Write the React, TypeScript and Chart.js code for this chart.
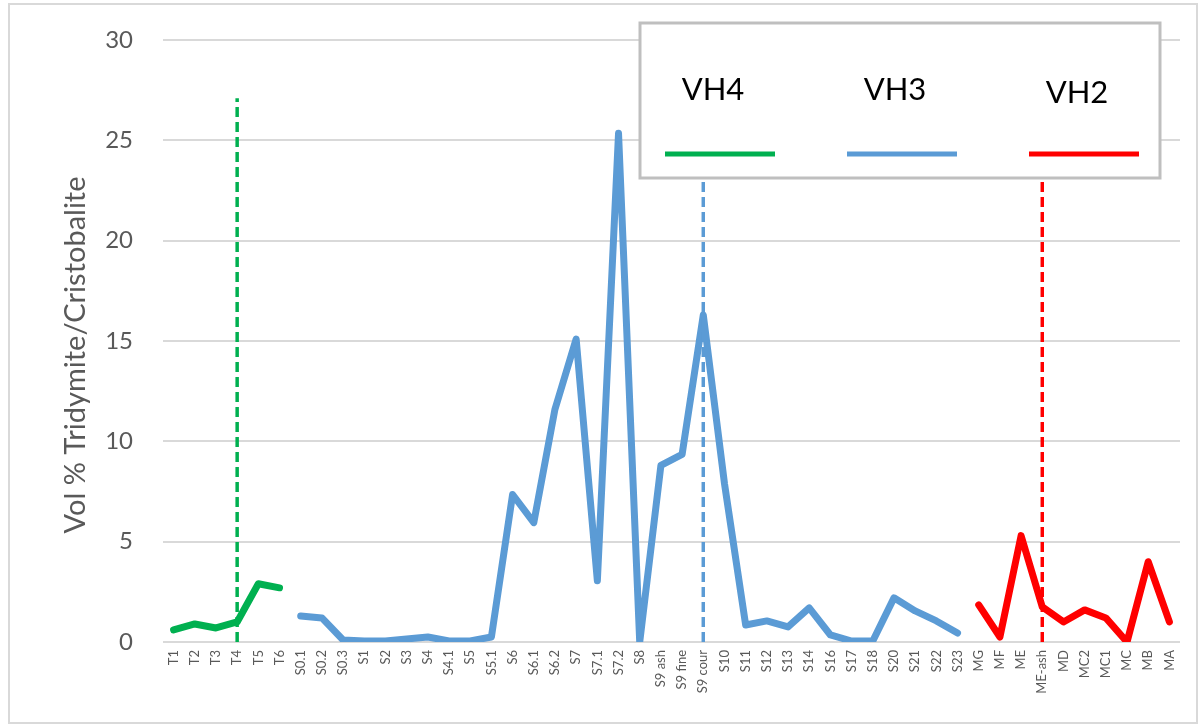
import React, { useEffect, useRef } from "react";
import { Chart, registerables } from "chart.js";

Chart.register(...registerables);

const categories = [
  "T1", "T2", "T3", "T4", "T5", "T6",
  "S0.1", "S0.2", "S0.3", "S1", "S2", "S3", "S4", "S4.1", "S5", "S5.1", "S6", "S6.1", "S6.2", "S7", "S7.1", "S7.2", "S8",
  "S9 ash", "S9 fine", "S9 cour", "S10", "S11", "S12", "S13", "S14", "S16", "S17", "S18", "S20", "S21", "S22", "S23",
  "MG", "MF", "ME", "ME-ash", "MD", "MC2", "MC1", "MC", "MB", "MA",
];

const vh4Labels = ["T1", "T2", "T3", "T4", "T5", "T6"];
const vh4Values = [0.6, 0.9, 0.7, 1.0, 2.9, 2.7];

const vh3Labels = [
  "S0.1", "S0.2", "S0.3", "S1", "S2", "S3", "S4", "S4.1", "S5", "S5.1", "S6", "S6.1", "S6.2", "S7", "S7.1", "S7.2", "S8",
  "S9 ash", "S9 fine", "S9 cour", "S10", "S11", "S12", "S13", "S14", "S16", "S17", "S18", "S20", "S21", "S22", "S23",
];
const vh3Values = [
  1.3, 1.2, 0.1, 0.05, 0.05, 0.15, 0.25, 0.05, 0.05, 0.25, 7.35, 5.95, 11.6, 15.1, 3.05, 25.35, 0.0,
  8.8, 9.35, 16.3, 7.9, 0.85, 1.05, 0.75, 1.7, 0.35, 0.05, 0.05, 2.2, 1.55, 1.05, 0.45,
];

const vh2Labels = ["MG", "MF", "ME", "ME-ash", "MD", "MC2", "MC1", "MC", "MB", "MA"];
const vh2Values = [1.85, 0.25, 5.3, 1.75, 1.0, 1.6, 1.2, 0.0, 4.0, 1.0];

const seriesNames = ["VH4", "VH3", "VH2"];
const seriesColors = ["#00b050", "#5b9bd5", "#ff0000"];
const markerLabels = ["T4", "S9 cour", "ME-ash"];
const markerTop = 27.1;

const yTicks = [0, 5, 10, 15, 20, 25, 30];
const yTitle = "Vol % Tridymite/Cristobalite";

function spread(labels: string[], values: number[]) {
  return categories.map((c) => {
    const i = labels.indexOf(c);
    return i >= 0 ? values[i] : null;
  });
}

const FONT = "Lato, 'Open Sans', sans-serif";

const decorPlugin = {
  id: "decor",
  beforeDraw(chart: any) {
    const ctx = chart.ctx;
    ctx.save();
    ctx.fillStyle = "#ffffff";
    ctx.fillRect(0, 0, chart.width, chart.height);
    ctx.strokeStyle = "#d9d9d9";
    ctx.lineWidth = 2;
    ctx.strokeRect(9, 4, 1188, 719);
    // y-axis title
    ctx.translate(76, 355);
    ctx.rotate(-Math.PI / 2);
    ctx.font = "29px " + FONT;
    ctx.fillStyle = "#595959";
    ctx.textAlign = "center";
    ctx.textBaseline = "middle";
    ctx.fillText(yTitle, 0, 0);
    ctx.restore();
  },
  afterDatasetsDraw(chart: any) {
    const ctx = chart.ctx;
    ctx.save();
    ctx.fillStyle = "#ffffff";
    ctx.fillRect(640, 23, 520, 155);
    ctx.strokeStyle = "#bfbfbf";
    ctx.lineWidth = 3;
    ctx.strokeRect(640, 23, 520, 155);
    const centers = [720, 902, 1084];
    const textY = [90, 90, 93];
    ctx.font = "31px " + FONT;
    ctx.fillStyle = "#000000";
    ctx.textAlign = "center";
    ctx.textBaseline = "middle";
    seriesNames.forEach((n, i) => {
      ctx.fillText(n, centers[i] - 7, textY[i]);
      ctx.strokeStyle = seriesColors[i];
      ctx.lineWidth = 5;
      ctx.beginPath();
      ctx.moveTo(centers[i] - 55, 154);
      ctx.lineTo(centers[i] + 55, 154);
      ctx.stroke();
    });
    ctx.restore();
  },
};

export default function App() {
  const ref = useRef<HTMLCanvasElement>(null);
  useEffect(() => {
    if (!ref.current) return;
    const markerSets = markerLabels.map((lab, i) => ({
      label: "marker" + i,
      data: [
        { x: lab, y: 0 },
        { x: lab, y: markerTop },
      ],
      borderColor: seriesColors[i],
      borderWidth: 3.5,
      borderDash: [10, 5],
      pointRadius: 0,
      fill: false,
      order: 0,
    }));
    const lineSets = [
      spread(vh4Labels, vh4Values),
      spread(vh3Labels, vh3Values),
      spread(vh2Labels, vh2Values),
    ].map((d, i) => ({
      label: seriesNames[i],
      data: d,
      borderColor: seriesColors[i],
      borderWidth: 7,
      borderCapStyle: "round",
      borderJoinStyle: "round",
      pointRadius: 0,
      spanGaps: false,
      fill: false,
      tension: 0,
      order: 1,
    }));
    const chart = new Chart(ref.current, {
      type: "line",
      data: { labels: categories, datasets: [...markerSets, ...lineSets] as any },
      plugins: [decorPlugin],
      options: {
        animation: false,
        responsive: false,
        maintainAspectRatio: false,
        layout: { padding: { left: 0, right: 21, top: 40, bottom: 0 } },
        plugins: { legend: { display: false }, tooltip: { enabled: false } },
        scales: {
          x: {
            type: "category",
            offset: true,
            grid: { display: false, drawTicks: false },
            border: { display: false },
            afterFit: (s: any) => {
              s.height = 83;
              s.paddingLeft = 0;
              s.paddingRight = 0;
            },
            ticks: {
              autoSkip: false,
              maxRotation: 90,
              minRotation: 90,
              padding: 8,
              color: "#595959",
              font: { family: FONT, size: 13 },
            },
          },
          y: {
            min: 0,
            max: 30,
            afterFit: (s: any) => {
              s.width = 163;
              s.paddingTop = 0;
              s.paddingBottom = 0;
            },
            afterBuildTicks: (s: any) => {
              s.ticks = yTicks.map((v) => ({ value: v }));
            },
            grid: { color: "#d9d9d9", lineWidth: 2, drawTicks: false },
            border: { display: false },
            ticks: {
              padding: 30,
              color: "#595959",
              font: { family: FONT, size: 24 },
            },
            title: { display: false },
          },
        },
      },
    });
    return () => chart.destroy();
  }, []);
  return (
    <div style={{ position: "fixed", left: 0, top: 0, width: 1201, height: 725, background: "#fff" }}>
      <canvas ref={ref} width={1201} height={725} style={{ display: "block", width: 1201, height: 725 }} />
    </div>
  );
}
